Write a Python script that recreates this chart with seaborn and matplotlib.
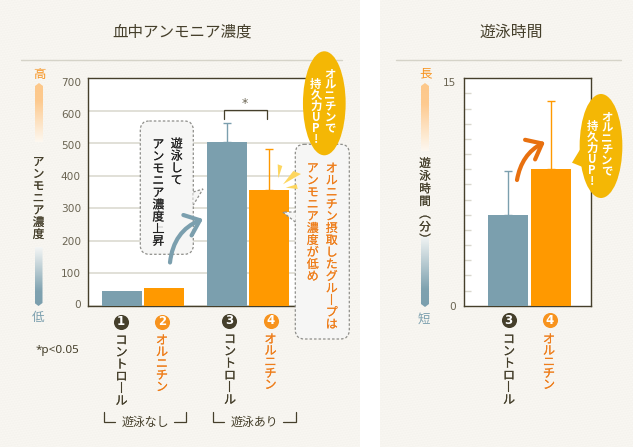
import numpy as np
import pandas as pd
import matplotlib
matplotlib.use("Agg")
import matplotlib.pyplot as plt
import matplotlib.text as mtext
import matplotlib.patheffects as pe
from matplotlib.colors import LinearSegmentedColormap
from matplotlib.font_manager import FontProperties
from matplotlib.patches import Ellipse, FancyArrowPatch, FancyBboxPatch, Polygon
from matplotlib.transforms import ScaledTranslation
import seaborn as sns

# ---- values ----
swim_groups = ["遊泳なし", "遊泳なし", "遊泳あり", "遊泳あり"]
treatments = ["コントロール", "オルニチン", "コントロール", "オルニチン"]
ammonia_mean = [46, 55, 505, 355]
ammonia_upper = [None, None, 561, 481]
ammonia_ticks = [0, 100, 200, 300, 400, 500, 600, 700]

swim_labels = ["コントロール", "オルニチン"]
swim_minutes = [6.0, 9.0]
swim_upper = [8.9, 13.5]

# ---- colours ----
BLUE = "#7b9fae"
ORANGE = "#ff9900"
TEXT_ORANGE = "#ee7d1a"
DARK = "#453f2b"
GRID = "#d9d7cd"
YELLOW = "#f4b705"

sns.set_theme(style="white")
plt.rcParams["font.family"] = ["Noto Sans CJK JP", "DejaVu Sans"]

# Give every one-character line the same height, so stacked text keeps an even pitch.
_metrics = mtext._get_text_metrics_with_cache


def _even_metrics(renderer, text, fontprop, ismath, dpi):
    w, h, d = _metrics(renderer, text, fontprop, ismath, dpi)
    if len(text) == 1:
        _, h, d = _metrics(renderer, "lp", fontprop, ismath, dpi)
    return w, h, d


mtext._get_text_metrics_with_cache = _even_metrics

W, H = 633, 447
fig = plt.figure(figsize=(W / 100, H / 100), dpi=100, facecolor="white")
renderer = fig.canvas.get_renderer()


def axes_box(left, top, right, bottom, z):
    return fig.add_axes([left / W, 1 - bottom / H, (right - left) / W, (bottom - top) / H], zorder=z)


# Paper panels behind both charts
paper = fig.add_axes([0, 0, 1, 1], zorder=0)
paper.set_xlim(0, W)
paper.set_ylim(H, 0)
paper.axis("off")
yy, xx = np.mgrid[0:H, 0:W]
weave = 247 + 1.5 * np.sin(xx * 2.1) * np.cos(yy * 1.3) + 1.2 * np.sin(yy * 2.6 + xx * 0.4)
tex = np.dstack([weave, weave - 2, weave - 7]) / 255
tex[:, 360:380] = 1.0
paper.imshow(tex, extent=(0, W, H, 0), aspect="auto", interpolation="nearest")
for x0, x1 in [(21, 342), (396, 621)]:
    paper.plot([x0, x1], [59.5, 59.5], color="#d5d3c8", lw=1)

# ---- blood ammonia chart ----
ax1 = axes_box(88, 78, 320, 306, 1)
blood = pd.DataFrame({"swim": swim_groups, "treatment": treatments, "ammonia": ammonia_mean})
sns.barplot(
    data=blood, x="swim", y="ammonia", hue="treatment",
    palette=[BLUE, ORANGE], width=0.8, gap=0.048, saturation=1,
    errorbar=None, legend=False, linewidth=0, ax=ax1, zorder=3,
)
ax1.set_xlim((88 - 143) / 105, (320 - 143) / 105)
ax1.set_ylim(0, 700)
ax1.set_xticks([])
ax1.set_xlabel("")
ax1.set_ylabel("")
ax1.set_yticks(ammonia_ticks)
ax1.grid(axis="y", color=GRID, lw=1.1, zorder=0)
ax1.set_axisbelow(True)
ax1.tick_params(axis="y", length=0, pad=5, labelsize=7.6, labelcolor="#6b6553")
label_nudge = [-2, -0.7, -0.3, 0, 0.7, 2.3, 3, 3.7]
for lab, dy in zip(ax1.get_yticklabels(), label_nudge):
    lab.set_fontfamily("DejaVu Sans")
    lab.set_transform(lab.get_transform() + ScaledTranslation(0, -dy / 100, fig.dpi_scale_trans))
for s in ax1.spines.values():
    s.set_color(DARK)
    s.set_linewidth(1.0)

bars1 = sorted((b for c in ax1.containers for b in c), key=lambda b: b.get_x())
for bar, mean, up, col in zip(bars1, ammonia_mean, ammonia_upper, [BLUE, ORANGE, BLUE, ORANGE]):
    if up is not None:
        ax1.errorbar(bar.get_x() + bar.get_width() / 2, mean, yerr=[[0], [up - mean]],
                     color=col, lw=1, capsize=2.9, capthick=1, zorder=2)

# ---- swimming time chart ----
ax2 = axes_box(464.3, 78.3, 590.7, 305.7, 1)
swim = pd.DataFrame({"treatment": swim_labels, "minutes": swim_minutes})
sns.barplot(
    data=swim, x="treatment", y="minutes", hue="treatment",
    palette=[BLUE, ORANGE], width=0.93, saturation=1,
    errorbar=None, legend=False, linewidth=0, ax=ax2, zorder=3,
)
ax2.set_xlim((464.3 - 508) / 43, (590.7 - 508) / 43)
ax2.set_ylim(0, 15)
ax2.set_xticks([])
ax2.set_xlabel("")
ax2.set_ylabel("")
ax2.set_yticks([0, 15])
ax2.set_yticks(np.arange(1, 15), minor=True)
ax2.tick_params(axis="y", which="major", length=0, pad=6, labelsize=7.6, labelcolor="#6b6553")
ax2.tick_params(axis="y", which="minor", left=True, length=5, width=1, color=GRID, direction="in")
for lab, dy in zip(ax2.get_yticklabels(), [0, 3.5]):
    lab.set_fontfamily("DejaVu Sans")
    lab.set_transform(lab.get_transform() + ScaledTranslation(0, -dy / 100, fig.dpi_scale_trans))
for s in ax2.spines.values():
    s.set_color(DARK)
    s.set_linewidth(1.0)
bars2 = sorted((b for c in ax2.containers for b in c), key=lambda b: b.get_x())
for bar, mean, up, col in zip(bars2, swim_minutes, swim_upper, [BLUE, ORANGE]):
    ax2.errorbar(bar.get_x() + bar.get_width() / 2, mean, yerr=[[0], [up - mean]],
                 color=col, lw=1, capsize=2.9, capthick=1, zorder=2)

# ---- annotation layer, in figure pixels ----
ov = fig.add_axes([0, 0, 1, 1], zorder=5)
ov.patch.set_alpha(0)
ov.axis("off")

VERTICAL_FORMS = {"ー": "丨", "(": "︵", ")": "︶"}


def tategaki(x, top, s, pitch, size=8.6, color=DARK, weight="normal", z=10, stroke=0.08):
    """Stacks characters top to bottom at a set pitch, as vertical Japanese is set."""
    stacked = "\n".join(VERTICAL_FORMS.get(c, c) for c in s)
    fp = FontProperties(family=plt.rcParams["font.family"], size=size, weight=weight)
    _, h, d = _metrics(renderer, "lp", fp, False, fig.dpi)
    ls = (pitch - d) / (h - d)
    t = ov.text(x, top, stacked, ha="center", va="top", ma="center", fontsize=size,
                color=color, fontweight=weight, linespacing=ls, zorder=z)
    if stroke:
        t.set_path_effects([pe.withStroke(linewidth=stroke, foreground=color)])


def gradient_strip(x0, x1, y0, y1, stops, point):
    cmap = LinearSegmentedColormap.from_list("strip", stops)
    g = np.linspace(0, 1, 128)[:, None]
    im = ov.imshow(g, cmap=cmap, extent=(x0, x1, y1, y0), aspect="auto", zorder=3, vmin=0, vmax=1)
    mid = (x0 + x1) / 2
    if point == "up":
        pts = [(mid, y0), (x1, y0 + 3), (x1, y1), (x0, y1), (x0, y0 + 3)]
    else:
        pts = [(x0, y0), (x1, y0), (x1, y1 - 3), (mid, y1), (x0, y1 - 3)]
    clip = Polygon(pts, transform=ov.transData, fc="none", ec="none")
    ov.add_patch(clip)
    im.set_clip_path(clip)


warm = [(0, "#fdc88a"), (0.3, "#fdca8f"), (1, "#fdf8f0")]
cool = [(0, "#f4f6f5"), (0.75, "#7fa2b0"), (1, BLUE)]
gradient_strip(35, 43, 83, 142, warm, "up")
gradient_strip(34.5, 42.5, 247, 306, cool, "down")
gradient_strip(421, 429, 83, 151, warm, "up")
gradient_strip(421, 429, 235, 307, cool, "down")

for x, y, s, c in [(39, 74.5, "高", "#f7931e"), (38, 318, "低", BLUE),
                   (426, 73.5, "長", "#f7931e"), (424, 319, "短", BLUE)]:
    ov.text(x, y, s, color=c, fontsize=9, ha="center", va="center")
tategaki(38.5, 155.5, "アンモニア濃度", 12.1, size=8.4)
tategaki(425, 157, "遊泳時間(分)", 12.7, size=8.4)

ov.text(182.5, 32, "血中アンモニア濃度", fontsize=11.2, color=DARK, ha="center", va="center")
ov.text(511, 32, "遊泳時間", fontsize=11.4, color=DARK, ha="center", va="center")

# Numbered discs and their labels beneath the bars
discs = [(121, 321.5, DARK, "1"), (162, 321.5, "#f7931e", "2"), (229, 321, DARK, "3"),
         (270.5, 320.5, "#f7931e", "4"), (508.5, 320, DARK, "3"), (549.5, 320, "#f7931e", "4")]
for x, y, c, n in discs:
    ov.scatter([x], [y], s=118, color=c, lw=0, zorder=6)
    ov.text(x, y, n, color="white", fontsize=8.5, fontweight="bold", ha="center", va="center",
            fontfamily="DejaVu Sans", zorder=7)
for x, y, s, c, p in [(121.5, 334, swim_labels[0], DARK, 12.1), (162, 334, swim_labels[1], TEXT_ORANGE, 11.7),
                      (230, 333, swim_labels[0], DARK, 12.1), (270.5, 333, swim_labels[1], TEXT_ORANGE, 11.4),
                      (509, 333, swim_labels[0], DARK, 12.1), (549, 333, swim_labels[1], TEXT_ORANGE, 11.4)]:
    tategaki(x, y, s, p, size=8.8, color=c)

ov.text(36, 350, "*p<0.05", fontsize=8.4, color=DARK, ha="left", va="center", fontfamily="Noto Sans")

# Group brackets under the labels
for a, b, c, d in [(104, 115, 174, 185.5), (212.7, 224, 283.3, 295.7)]:
    ov.plot([a, a, b], [411.5, 421.5, 421.5], color=DARK, lw=0.9, solid_joinstyle="miter")
    ov.plot([c, d, d], [421.5, 421.5, 411.5], color=DARK, lw=0.9, solid_joinstyle="miter")
ov.text(145, 422, "遊泳なし", fontsize=8.6, color=DARK, ha="center", va="center")
ov.text(254, 422, "遊泳あり", fontsize=8.6, color=DARK, ha="center", va="center")

# Significance bracket
ov.plot([224.3, 224.3, 267.3, 267.3], [118.7, 110.3, 110.3, 118.7], color=DARK, lw=0.9,
        solid_joinstyle="miter")
ov.text(245, 103.5, "*", fontsize=9, color="#6b6553", ha="center", va="center", fontfamily="DejaVu Sans")

DASH = dict(ec="#8e8e8a", lw=0.9, ls=(0, (2, 1.6)))
BOX = "#f6f6f5"


def callout(x0, y0, x1, y1, tail, z):
    ov.add_patch(FancyBboxPatch((x0 + 9, y0 + 9), x1 - x0 - 18, y1 - y0 - 18,
                                boxstyle="round,pad=9,rounding_size=9", fc=BOX, zorder=z,
                                mutation_aspect=1, **DASH))
    ov.add_patch(Polygon(tail, closed=False, fc=BOX, zorder=z + 0.1, **DASH))


callout(140.3, 121, 193.3, 254.3, [(193.3, 192), (203, 189), (193.3, 205)], 4)
callout(295.3, 144.3, 349.3, 339, [(296, 212), (282.7, 212), (295.3, 222)], 4)

tategaki(176.7, 137.5, "遊泳して", 12.1, color="#222222")
tategaki(158.3, 138, "アンモニア濃度上昇", 12.1, color="#222222")
tategaki(331.7, 162, "オルニチン摂取したグループは", 12, color=TEXT_ORANGE)
tategaki(312.7, 162, "アンモニア濃度が低め", 12, color=TEXT_ORANGE)

# Spark marks beside the fourth bar
for tri in [[(277.7, 164.3), (282.3, 166), (278.3, 178.3)],
            [(283, 184.3), (293.3, 171), (301, 174)],
            [(285.7, 187.7), (296.7, 184.3), (297.7, 189)]]:
    ov.add_patch(Polygon(tri, fc="#fdd65e", ec="none", zorder=4))

# Curved rise arrows
ov.add_patch(FancyArrowPatch((170, 262.5), (203, 219), connectionstyle="arc3,rad=-0.3",
                             arrowstyle="->,head_length=4.4,head_width=3.6", color=BLUE, lw=3,
                             mutation_scale=2.2, shrinkA=0, shrinkB=0, zorder=8))
ov.add_patch(FancyArrowPatch((517, 180), (545, 142), connectionstyle="arc3,rad=-0.25",
                             arrowstyle="->,head_length=4.4,head_width=3.6", color="#e8700f", lw=3,
                             mutation_scale=2.2, shrinkA=0, shrinkB=0, zorder=8))

# Yellow balloons
ov.add_patch(Ellipse((324.3, 103.3), 42.7, 104, fc=YELLOW, ec="none", zorder=6))
tategaki(330, 68, "オルニチンで", 10.8, size=8.2, color="white", weight="bold", stroke=0)
tategaki(316, 78, "持久力UP!", 11, size=8.2, color="white", weight="bold", stroke=0)

ov.add_patch(Polygon([(572, 162.7), (584, 143), (590, 170)], fc=YELLOW, ec="none", zorder=6))
ov.add_patch(Ellipse((601, 146), 42.7, 104, fc=YELLOW, ec="none", zorder=6))
tategaki(606.7, 111, "オルニチンで", 10.8, size=8.2, color="white", weight="bold", stroke=0)
tategaki(592.3, 120, "持久力UP!", 11, size=8.2, color="white", weight="bold", stroke=0)

ov.set_xlim(0, W)
ov.set_ylim(H, 0)

fig.savefig("out.png", dpi=100)
